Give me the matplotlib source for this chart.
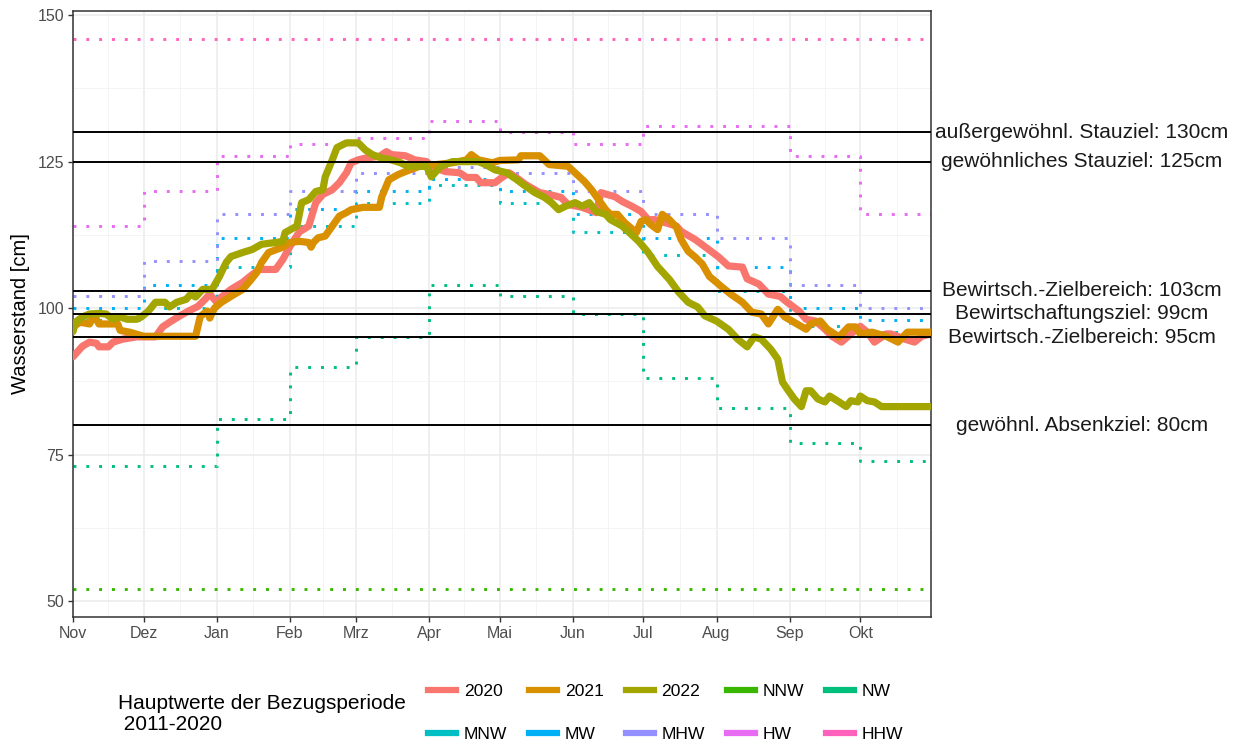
import numpy as np
import matplotlib.pyplot as plt
from matplotlib.lines import Line2D

plt.rcParams['font.family'] = ['Liberation Sans', 'DejaVu Sans']

# x axis: day of the hydrological year (0 = 1. Nov)
months = ['Nov', 'Dez', 'Jan', 'Feb', 'Mrz', 'Apr', 'Mai', 'Jun', 'Jul', 'Aug', 'Sep', 'Okt']
month_start = [0, 30, 61, 92, 120, 151, 181, 212, 242, 273, 304, 334]
year_end = 364

# water levels [cm] at the turning points
d2020 = [0, 4, 7, 10, 11, 15, 17, 21, 27, 35, 38, 41, 45, 49, 53, 56, 58, 61, 63, 67,
         72, 75, 79, 86, 89, 92, 96, 100, 103, 106, 110, 113, 116, 118, 121, 124, 130,
         133, 135, 141, 145, 150, 152, 158, 164, 167, 171, 173, 179, 182, 185, 189, 192,
         198, 202, 207, 210, 216, 222, 224, 230, 233, 237, 241, 244, 247, 256, 258, 264,
         268, 274, 278, 284, 286, 291, 295, 300, 303, 308, 311, 315, 319, 322, 326, 330,
         334, 337, 340, 345, 347, 353, 357, 360, 364]
w2020 = [91.7, 93.5, 94.2, 94.0, 93.4, 93.4, 94.2, 94.7, 95.1, 95.1, 96.8, 97.6, 98.6,
         99.5, 100.3, 101.5, 102.4, 101.0, 101.9, 103.2, 104.4, 105.4, 106.6, 106.6,
         108.3, 110.5, 113.0, 114.0, 118.0, 119.4, 120.2, 121.4, 123.1, 124.8, 125.3,
         125.6, 125.9, 126.7, 126.2, 126.0, 125.3, 125.0, 124.2, 123.3, 123.1, 122.3,
         122.3, 121.4, 121.4, 122.3, 123.1, 122.0, 121.1, 119.7, 119.4, 118.9, 117.7,
         117.2, 116.3, 119.7, 119.0, 118.2, 117.4, 116.5, 115.1, 115.1, 114.0, 113.1,
         111.7, 110.5, 108.7, 107.2, 107.0, 105.0, 104.1, 102.4, 102.0, 101.0, 99.5,
         98.1, 97.8, 96.4, 95.2, 94.2, 95.6, 96.9, 95.9, 94.2, 95.6, 95.6, 94.7, 94.2,
         95.2, 95.6]

d2021 = [0, 3, 7, 9, 11, 19, 20, 24, 30, 52, 54, 57, 58, 60, 63, 67, 72, 75, 78, 80,
         83, 89, 92, 96, 100, 101, 102, 104, 107, 110, 113, 116, 118, 123, 130, 131, 134,
         138, 141, 147, 154, 161, 167, 169, 172, 178, 181, 189, 190, 198, 202, 210, 213,
         217, 220, 223, 226, 228, 231, 234, 239, 241, 243, 245, 248, 250, 253, 256, 258,
         261, 264, 267, 270, 273, 275, 279, 284, 288, 292, 295, 299, 302, 305, 311, 313,
         317, 320, 325, 329, 332, 334, 339, 345, 350, 354, 364]
w2021 = [96.8, 97.6, 97.3, 98.8, 97.3, 97.3, 96.2, 95.9, 95.2, 95.2, 98.6, 99.5, 98.3,
         100.0, 101.0, 102.0, 103.2, 104.6, 106.1, 107.8, 109.5, 110.4, 111.2, 111.4,
         111.2, 110.4, 111.2, 112.0, 112.3, 114.0, 115.7, 116.3, 116.8, 117.2, 117.2,
         119.0, 121.9, 122.8, 123.3, 124.2, 124.5, 124.8, 125.3, 126.2, 125.3, 124.8,
         125.2, 125.3, 126.0, 126.0, 124.5, 124.2, 123.1, 121.6, 120.2, 118.5, 116.8,
         116.0, 116.0, 114.6, 112.9, 114.8, 115.1, 114.3, 113.4, 116.0, 115.1, 113.8,
         111.7, 109.7, 108.7, 107.5, 105.4, 104.4, 103.7, 102.4, 101.0, 99.3, 99.0, 97.3,
         99.8, 98.5, 97.8, 96.4, 97.3, 97.8, 96.4, 95.1, 96.8, 96.8, 95.6, 95.9, 95.2,
         94.2, 95.9, 95.9]

d2022 = [0, 1, 4, 7, 11, 14, 17, 20, 23, 27, 29, 32, 35, 39, 41, 44, 48, 50, 52, 55,
         59, 62, 65, 67, 72, 76, 80, 86, 89, 90, 95, 97, 100, 103, 106, 107, 110, 112,
         116, 121, 124, 127, 131, 135, 139, 142, 150, 152, 156, 161, 172, 175, 179, 184,
         188, 192, 196, 200, 203, 206, 209, 213, 216, 219, 222, 226, 228, 233, 236, 240,
         244, 248, 253, 257, 261, 265, 268, 273, 278, 282, 286, 289, 292, 296, 299, 301,
         303, 306, 309, 311, 313, 316, 319, 321, 325, 328, 330, 333, 334, 337, 340, 343,
         364]
w2022 = [96.0, 97.6, 98.5, 99.0, 99.1, 99.0, 98.1, 98.5, 98.1, 98.1, 98.5, 99.5, 101.0,
         101.0, 100.2, 101.0, 101.5, 102.4, 101.9, 103.2, 103.2, 105.3, 107.8, 108.8,
         109.5, 110.0, 110.9, 111.2, 111.4, 112.9, 114.0, 118.0, 118.5, 119.9, 120.2,
         122.4, 125.3, 127.4, 128.2, 128.2, 127.0, 126.2, 125.6, 125.3, 124.8, 124.2,
         124.2, 122.4, 124.2, 125.0, 125.0, 124.5, 123.6, 123.1, 122.0, 120.8, 119.7,
         118.9, 118.0, 116.8, 117.4, 118.0, 117.4, 118.0, 116.5, 116.0, 115.1, 114.0,
         112.9, 111.4, 109.5, 107.1, 104.9, 102.7, 101.0, 100.2, 98.7, 97.8, 96.4, 94.7,
         93.4, 95.1, 94.7, 93.0, 91.3, 87.4, 86.2, 84.5, 83.2, 85.9, 85.9, 84.5, 84.0,
         85.0, 84.0, 83.2, 84.2, 84.0, 85.0, 84.2, 84.0, 83.2, 83.2]

# Hauptwerte der Bezugsperiode 2011-2020, monthly [cm]
nnw = [52, 52, 52, 52, 52, 52, 52, 52, 52, 52, 52, 52]
nw = [73, 73, 81, 90, 95, 104, 102, 99, 88, 83, 77, 74]
mnw = [98, 100, 107, 114, 118, 121, 118, 113, 109, 103, 97, 96]
mw = [100, 104, 112, 117, 120, 122, 120, 116, 112, 107, 100, 98]
mhw = [102, 108, 116, 120, 123, 124, 123, 120, 116, 112, 104, 100]
hw = [114, 120, 126, 128, 129, 132, 130, 128, 131, 131, 126, 116]
hhw = [146, 146, 146, 146, 146, 146, 146, 146, 146, 146, 146, 146]

# target levels
target_levels = [130, 125, 103, 99, 95, 80]
target_labels = ['außergewöhnl. Stauziel: 130cm', 'gewöhnliches Stauziel: 125cm',
                 'Bewirtsch.-Zielbereich: 103cm', 'Bewirtschaftungsziel: 99cm',
                 'Bewirtsch.-Zielbereich: 95cm', 'gewöhnl. Absenkziel: 80cm']

series = [('2020', d2020, w2020, '#F8766D'),
          ('2021', d2021, w2021, '#D89000'),
          ('2022', d2022, w2022, '#A3A500')]
stats = [('NNW', nnw, '#39B600'), ('NW', nw, '#00BF7D'), ('MNW', mnw, '#00BFC4'),
         ('MW', mw, '#00B0F6'), ('MHW', mhw, '#9590FF'), ('HW', hw, '#E76BF3'),
         ('HHW', hhw, '#FF62BC')]

fig = plt.figure(figsize=(12.34, 7.44), dpi=100)
ax = fig.add_axes([73 / 1234, 1 - 617 / 744, 858 / 1234, 606 / 744])

step_x = month_start + [year_end]
for name, vals, col in stats:
    ax.plot(step_x, vals + [vals[-1]], drawstyle='steps-post', color=col, lw=2.1,
            linestyle=(0, (1, 3.4)), zorder=2)

for name, d, w, col in series:
    ax.plot(d, w, color=col, lw=5.2, solid_joinstyle='round', solid_capstyle='round', zorder=3)

for lev in target_levels:
    ax.axhline(lev, color='black', lw=1.4, zorder=4)

trans = ax.get_yaxis_transform()
for lev, lab in zip(target_levels, target_labels):
    ax.text(1.176, lev, lab, transform=trans, ha='center', va='center',
            fontsize=15, color='#1A1A1A', clip_on=False)

ax.set_xlim(0, year_end)
ax.set_ylim(47.3, 150.7)
ax.set_xticks(month_start)
ax.set_xticklabels(months)
minor_x = [(a + b) / 2 for a, b in zip(month_start, month_start[1:] + [year_end + 1])]
ax.set_xticks(minor_x, minor=True)
ax.set_yticks([50, 75, 100, 125, 150])
ax.set_yticks([62.5, 87.5, 112.5, 137.5], minor=True)
ax.grid(which='major', color='#EBEBEB', lw=1.1, zorder=0)
ax.grid(which='minor', color='#F2F2F2', lw=0.6, zorder=0)
ax.set_axisbelow(True)
ax.tick_params(which='major', length=3.5, width=1, color='#333333', labelcolor='#4D4D4D',
               labelsize=11.5, pad=3)
ax.tick_params(which='minor', length=0)
for sp in ax.spines.values():
    sp.set_color('#333333')
    sp.set_linewidth(1.1)
ax.set_ylabel('Wasserstand [cm]', fontsize=14.5, labelpad=5)

# legend
handles = {}
for name, d, w, col in series:
    handles[name] = Line2D([], [], color=col, lw=4.5)
for name, vals, col in stats:
    handles[name] = Line2D([], [], color=col, lw=4.5)
order = ['2020', 'MNW', '2021', 'MW', '2022', 'MHW', 'NNW', 'HW', 'NW', 'HHW']
fig.legend([handles[k] for k in order], order, ncol=5, loc='center left',
           bbox_to_anchor=(428 / 1234, 1 - 713 / 744), frameon=False, fontsize=12.6,
           handlelength=1.6, handletextpad=0.45, columnspacing=1.25, labelspacing=1.55,
           borderpad=0, borderaxespad=0)
fig.text(118 / 1234, 1 - 714 / 744, 'Hauptwerte der Bezugsperiode\n 2011-2020',
         fontsize=15, ha='left', va='center', linespacing=1.1)

fig.savefig('out.png', dpi=100)
